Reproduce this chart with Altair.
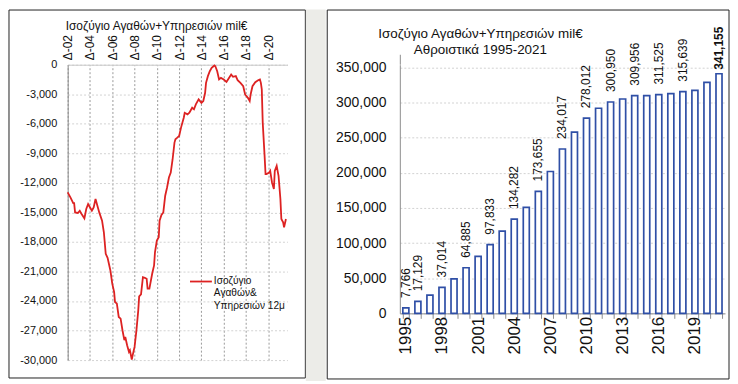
import altair as alt
import pandas as pd

# ---------------- data ----------------
# Left: 12-month rolling balance of goods & services (mil €), monthly
months = [
    "2002-12", "2003-03", "2003-06", "2003-07", "2003-08", "2003-11", "2004-01", "2004-03",
    "2004-06", "2004-08", "2004-10", "2004-11", "2005-02", "2005-04", "2005-06", "2005-08",
    "2005-10", "2006-01", "2006-03", "2006-05", "2006-07", "2006-10", "2006-12", "2007-02",
    "2007-03", "2007-05", "2007-07", "2007-09", "2007-11", "2008-01", "2008-02", "2008-04",
    "2008-06", "2008-07", "2008-09", "2008-10", "2008-12", "2009-02", "2009-04", "2009-05",
    "2009-07", "2009-09", "2009-11", "2010-01", "2010-02", "2010-04", "2010-07", "2010-09",
    "2010-10", "2010-12", "2011-02", "2011-03", "2011-05", "2011-07", "2011-09", "2011-11",
    "2012-01", "2012-03", "2012-05", "2012-07", "2012-08", "2012-10", "2012-12", "2013-02",
    "2013-05", "2013-06", "2013-09", "2013-11", "2014-02", "2014-04", "2014-06", "2014-09",
    "2014-12", "2015-02", "2015-04", "2015-05", "2015-07", "2015-09", "2015-11", "2016-02",
    "2016-03", "2016-05", "2016-07", "2016-09", "2016-12", "2017-03", "2017-05", "2017-08",
    "2017-10", "2018-01", "2018-03", "2018-06", "2018-09", "2018-11", "2019-02", "2019-04",
    "2019-05", "2019-07", "2019-10", "2020-01", "2020-03", "2020-04", "2020-05", "2020-06",
    "2020-08", "2020-09", "2020-10", "2021-01", "2021-02", "2021-04", "2021-06", "2021-07",
    "2021-09", "2021-11", "2022-01", "2022-02", "2022-04", "2022-05", "2022-07",
]
balance = [
    -12970, -13480, -14050, -14050, -15000, -15060, -14830, -15160,
    -15600, -14660, -14150, -14320, -14830, -14490, -13640, -14320,
    -15000, -15840, -17020, -19210, -19610, -20900, -22240, -23090,
    -24100, -24270, -25620, -25790, -26970, -27980, -27650, -28490,
    -29170, -29000, -29940, -29500, -28660, -26970, -24950, -23530,
    -23330, -21580, -21640, -21740, -22750, -22750, -21230, -20390,
    -19050, -17860, -17530, -15840, -15260, -15000, -13310, -12470,
    -11460, -10950, -9600, -7910, -7570, -7410, -7240, -6390,
    -5380, -4880, -5040, -4880, -4370, -4530, -4030, -3520,
    -3870, -3690, -2850, -1840, -1160, -660, -320, -80,
    -150, -660, -1500, -1340, -1500, -1740, -1440, -990,
    -1230, -1160, -1570, -1840, -2180, -3020, -3360, -3690,
    -3020, -2180, -1770, -1570, -1500, -1840, -2510, -5890,
    -9260, -11110, -11110, -10950, -10780, -11960, -12630, -10780,
    -10270, -11280, -13640, -15670, -16010, -16520, -15670,
]
left_title = "Ισοζύγιο Αγαθών+Υπηρεσιών mil€"
legend_lines = ["Ισοζύγιο", "Αγαθών&", "Υπηρεσιών 12μ"]
left_tick_years = [2002, 2004, 2006, 2008, 2010, 2012, 2014, 2016, 2018, 2020]
left_y_ticks = list(range(-30000, 1, 3000))

# Right: cumulative balance 1995-2021
years = list(range(1995, 2022))
cumulative = [
    7766, 17129, 26000, 37014, 49000, 64885, 81000, 97833, 117000, 134282,
    151000, 173655, 202000, 234017, 258000, 278012, 292000, 300950, 305200,
    309956, 310000, 311525, 312800, 315639, 317400, 329000, 341155,
]
labelled_years = [1995, 1996, 1998, 2000, 2002, 2004, 2006, 2008, 2010, 2012, 2014, 2016, 2018]
bold_year = 2021
right_title = ["Ισοζύγιο Αγαθών+Υπηρεσιών mil€", "Αθροιστικά 1995-2021"]
right_y_ticks = list(range(0, 350001, 50000))

# ---------------- styling ----------------
RED = "#dd2222"
BLUE = "#2f4fa6"
GREY_BG = "#ecece8"
FONT = "Liberation Sans"
TXT = "#111111"

LW, LH = 221, 297
RW, RH = 327, 250

one = pd.DataFrame({"k": [0]})

# ---------------- left panel ----------------
line_df = pd.DataFrame({"month": months, "balance": balance})

box_l = alt.Chart(one).mark_rect(fill="transparent", stroke="#222222", strokeWidth=1).encode(
    x=alt.value(-59), x2=alt.value(LW + 18), y=alt.value(-55), y2=alt.value(LH + 18)
)
gap = alt.Chart(one).mark_rect(fill=GREY_BG).encode(
    x=alt.value(LW + 18.5), x2=alt.value(LW + 38.5), y=alt.value(-55.5), y2=alt.value(LH + 21)
)

line = alt.Chart(line_df).mark_line(color=RED, strokeWidth=1.8).encode(
    x=alt.X(
        "month:T",
        title=None,
        scale=alt.Scale(
            domain=[alt.DateTime(year=2002, month=12, date=1), alt.DateTime(year=2022, month=8, date=20)],
            nice=False,
        ),
        axis=alt.Axis(
            orient="top",
            values=[alt.DateTime(year=y, month=12, date=1) for y in left_tick_years],
            labelExpr="'Δ-' + timeFormat(datum.value, '%y')",
            labelAngle=270,
            labelFont=FONT,
            labelFontSize=12,
            labelColor=TXT,
            labelPadding=5,
            ticks=False,
            domainColor="#c8c8c8",
            grid=True,
            gridColor="#9a9a9a",
            gridDash=[2, 2],
            gridWidth=1,
            labelOverlap=False,
        ),
    ),
    y=alt.Y(
        "balance:Q",
        title=None,
        scale=alt.Scale(domain=[-30000, 0], nice=False),
        axis=alt.Axis(
            values=left_y_ticks,
            labelExpr="(datum.value < 0 ? '-' : '') + format(abs(datum.value), ',')",
            labelFont=FONT,
            labelFontSize=11,
            labelColor=TXT,
            labelPadding=11,
            ticks=False,
            domainColor="#8c8c8c",
            grid=True,
            gridColor="#d2d2d2",
            gridDash=[2, 2],
            gridWidth=1,
            labelOverlap=False,
        ),
    ),
)

leg_rule = alt.Chart(one).mark_rule(color=RED, strokeWidth=1.8).encode(
    x=alt.value(123), x2=alt.value(145), y=alt.value(218)
)
leg_text = alt.Chart(pd.DataFrame({"t": ["\n".join(legend_lines)]})).mark_text(
    align="left", baseline="top", lineBreak="\n", lineHeight=12.6,
    font=FONT, fontSize=10.2, color=TXT
).encode(text="t:N", x=alt.value(147), y=alt.value(212))

title_l = alt.Chart(pd.DataFrame({"t": [left_title]})).mark_text(
    align="left", baseline="middle", font=FONT, fontSize=12, color=TXT
).encode(text="t:N", x=alt.value(-2), y=alt.value(-39))

left = alt.layer(box_l, gap, line, leg_rule, leg_text, title_l).properties(width=LW, height=LH)

# ---------------- right panel ----------------
bar_df = pd.DataFrame({"year": years, "value": cumulative})
lab_df = bar_df[bar_df["year"].isin(labelled_years)]
bold_df = bar_df[bar_df["year"] == bold_year]

box_r = alt.Chart(one).mark_rect(fill="transparent", stroke="#222222", strokeWidth=1).encode(
    x=alt.value(-73), x2=alt.value(RW + 4), y=alt.value(-55), y2=alt.value(RH + 66)
)
axis_ext = alt.Chart(one).mark_rule(color="#8c8c8c", strokeWidth=1).encode(
    x=alt.value(0.5), y=alt.value(-10), y2=alt.value(0)
)

xenc = alt.X(
    "year:O",
    title=None,
    scale=alt.Scale(paddingInner=0.5, paddingOuter=0.25),
    axis=alt.Axis(
        labelExpr="(datum.value - 1995) % 3 == 0 ? datum.label : ''",
        labelAngle=270,
        labelFont=FONT,
        labelFontSize=17,
        labelColor=TXT,
        labelPadding=-2,
        tickBand="extent",
        tickSize=5,
        tickColor="#8c8c8c",
        domainColor="#8c8c8c",
        labelOverlap=False,
    ),
)
yenc = alt.Y(
    "value:Q",
    title=None,
    scale=alt.Scale(domain=[0, 354000], nice=False),
    axis=alt.Axis(
        values=right_y_ticks,
        format=",d",
        labelFont=FONT,
        labelFontSize=14,
        labelColor=TXT,
        labelPadding=14,
        ticks=False,
        domainColor="#8c8c8c",
        grid=True,
        gridColor="#d2d2d2",
        gridDash=[2, 2],
        gridWidth=1,
        labelOverlap=False,
    ),
)

bars = alt.Chart(bar_df).mark_bar(fill="white", stroke=BLUE, strokeWidth=1.7).encode(x=xenc, y=yenc)

labels = alt.Chart(lab_df).mark_text(
    angle=270, align="left", baseline="middle", dx=10, font=FONT, fontSize=12, color=TXT
).encode(x=xenc, y=yenc, text=alt.Text("value:Q", format=",d"))

bold_label = alt.Chart(bold_df).mark_text(
    angle=270, align="left", baseline="middle", dx=4, font=FONT, fontSize=12,
    fontWeight="bold", color=TXT
).encode(x=xenc, y=yenc, text=alt.Text("value:Q", format=",d"))

title_r = alt.Chart(pd.DataFrame({"t": ["\n".join(right_title)]})).mark_text(
    align="center", baseline="top", lineBreak="\n", lineHeight=16.6,
    font=FONT, fontSize=13.5, color=TXT
).encode(text="t:N", x=alt.value(81), y=alt.value(-38))

right = alt.layer(box_r, axis_ext, bars, labels, bold_label, title_r).properties(width=RW, height=RH)

chart = (
    alt.hconcat(left, right, spacing=0)
    .properties(padding=0, background="white")
    .configure_view(stroke="transparent")
)

chart.save("out.html", embed_options={"renderer": "svg", "actions": False})
